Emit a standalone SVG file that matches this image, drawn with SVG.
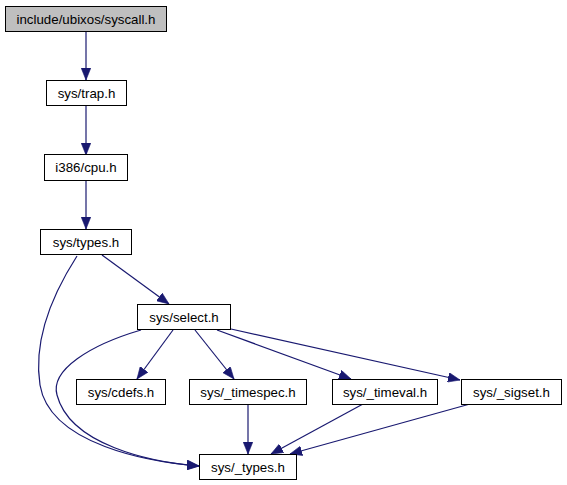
<svg xmlns="http://www.w3.org/2000/svg" width="567" height="485" viewBox="0 0 567 485">
<defs>
<style>
.node rect{fill:#ffffff;stroke:#000000;stroke-width:1}
.node.root rect{fill:#bfbfbf}
.node text{font-family:"Liberation Sans",Arial,sans-serif;font-size:13.3px;fill:#000000;text-anchor:middle}
.edges path{fill:none;stroke:#191970;stroke-width:1.2;marker-end:url(#arr)}
</style>
<marker id="arr" viewBox="0 0 10 8" refX="10" refY="4" markerWidth="12" markerHeight="10" markerUnits="userSpaceOnUse" orient="auto">
<path d="M0,0 L10,4 L0,8 Z" fill="#191970" stroke="#191970" stroke-width="0.5"/>
</marker>
</defs>
<rect width="567" height="485" fill="#ffffff"/>
<g class="edges" id="edges">
<path d="M86,31 L86,80"/>
<path d="M86,106 L86,155"/>
<path d="M86,181 L86,229"/>
<path d="M102,255 L169,304"/>
<path d="M77,256 C52,295 33,340 40,385 C50,445 150,462 199,466"/>
<path d="M141,330 C90,345 50,370 57,395 C70,445 150,462 199,466"/>
<path d="M173,330 L137,379"/>
<path d="M195,330 L234,379"/>
<path d="M217,330 L351,379"/>
<path d="M231,329 L460,380"/>
<path d="M248,404 L248,454"/>
<path d="M363,404 L271,454"/>
<path d="M470,404 L290,454"/>
</g>
<g class="node root" id="n_syscall"><rect x="5.5" y="6.5" width="161" height="25"/><text x="86" y="23.5">include/ubixos/syscall.h</text></g>
<g class="node" id="n_trap"><rect x="46.5" y="80.5" width="80" height="25"/><text x="86.5" y="97.5">sys/trap.h</text></g>
<g class="node" id="n_cpu"><rect x="44.5" y="154.5" width="83" height="26"/><text x="86" y="172">i386/cpu.h</text></g>
<g class="node" id="n_types"><rect x="40.5" y="229.5" width="91" height="25"/><text x="86" y="246.5">sys/types.h</text></g>
<g class="node" id="n_select"><rect x="137.5" y="304.5" width="93" height="25"/><text x="184" y="321.5">sys/select.h</text></g>
<g class="node" id="n_cdefs"><rect x="76.5" y="379.5" width="89" height="25"/><text x="121" y="396.5">sys/cdefs.h</text></g>
<g class="node" id="n_timespec"><rect x="189.5" y="379.5" width="117" height="25"/><text x="248" y="396.5">sys/_timespec.h</text></g>
<g class="node" id="n_timeval"><rect x="332.5" y="379.5" width="105" height="25"/><text x="385" y="396.5">sys/_timeval.h</text></g>
<g class="node" id="n_sigset"><rect x="461.5" y="379.5" width="100" height="25"/><text x="511.5" y="396.5">sys/_sigset.h</text></g>
<g class="node" id="n__types"><rect x="199.5" y="454.5" width="97" height="25"/><text x="248" y="471.5">sys/_types.h</text></g>
</svg>
